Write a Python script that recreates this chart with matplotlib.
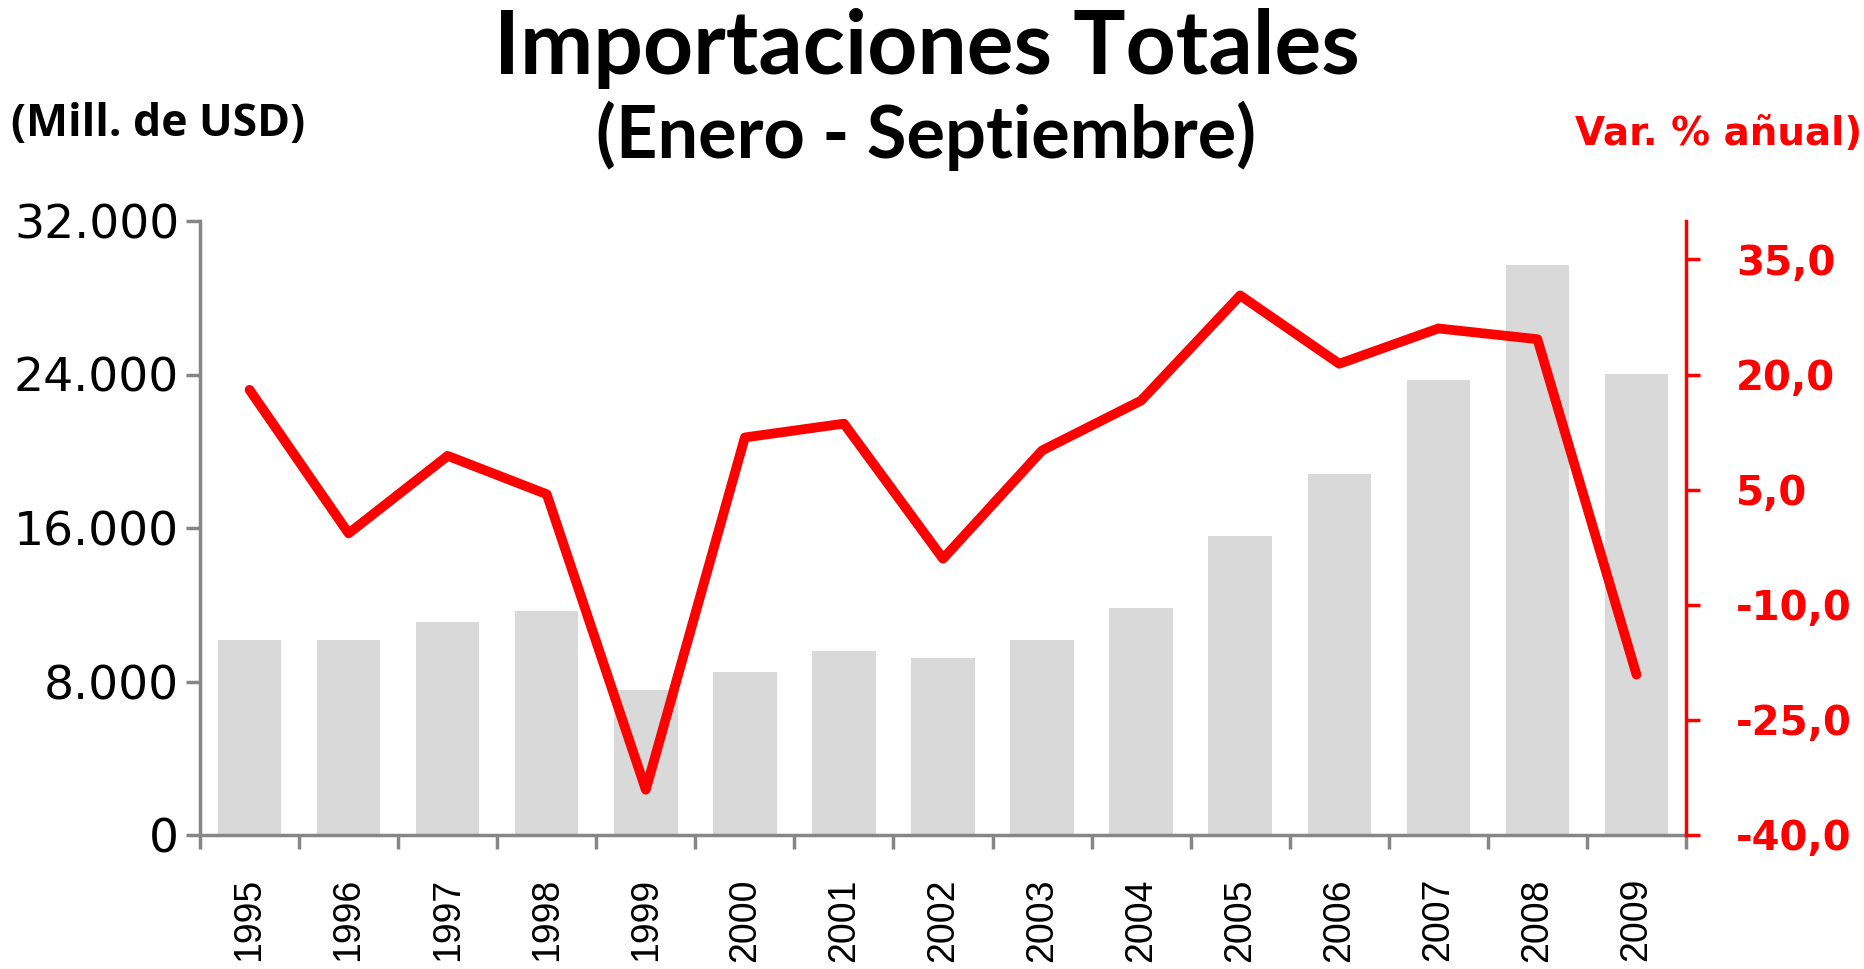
import numpy as np
import matplotlib
matplotlib.use('Agg')
import matplotlib.pyplot as plt
from matplotlib.ticker import FixedLocator, FuncFormatter

years = ['1995', '1996', '1997', '1998', '1999', '2000', '2001', '2002',
         '2003', '2004', '2005', '2006', '2007', '2008', '2009']
imports = [10150, 10150, 11100, 11650, 7550, 8500, 9600, 9250,
           10150, 11850, 15600, 18800, 23700, 29700, 24050]
var_pct = [18.0, -0.7, 9.4, 4.4, -34.1, 11.8, 13.6, -4.0,
           10.1, 16.6, 30.3, 21.4, 26.0, 24.6, -19.1]

left_ticks = [0, 8000, 16000, 24000, 32000]
right_ticks = [-40, -25, -10, 5, 20, 35]

GRAY = '#868686'
RED = '#ff0000'

fig = plt.figure(figsize=(18.64, 9.69), dpi=100)
ax = fig.add_axes([200 / 1864, 1 - 835 / 969, (1686 - 200) / 1864, (835 - 221) / 969])
x = np.arange(len(years))

ax.bar(x, imports, width=0.64, color='#d9d9d9', zorder=1)
ax.set_xlim(-0.5, len(years) - 0.5)
ax.set_ylim(0, 32000)

ax.yaxis.set_major_locator(FixedLocator(left_ticks))
ax.yaxis.set_major_formatter(FuncFormatter(lambda v, p: f'{int(v):,}'.replace(',', '.')))
ax.tick_params(axis='y', direction='out', length=10, width=2.5, color=GRAY,
               labelsize=34, pad=5)
for lab in ax.get_yticklabels():
    lab.set_family('DejaVu Sans')

ax.set_xticks(x)
ax.set_xticklabels(years, rotation=90, fontsize=27, family='Liberation Sans')
ax.tick_params(axis='x', length=0, pad=31)
ax.set_xticks(np.arange(-0.5, len(years)), minor=True)
ax.tick_params(axis='x', which='minor', direction='out', length=10, width=2.5, color=GRAY)

for side in ['top', 'right']:
    ax.spines[side].set_visible(False)
for side in ['left', 'bottom']:
    ax.spines[side].set_color(GRAY)
    ax.spines[side].set_linewidth(2.5)

ax2 = ax.twinx()
ax2.plot(x, var_pct, color=RED, linewidth=7, solid_joinstyle='round',
         solid_capstyle='round', zorder=3)
ax2.set_ylim(-40, 40)
ax2.yaxis.set_major_locator(FixedLocator(right_ticks))
ax2.yaxis.set_major_formatter(FuncFormatter(lambda v, p: f'{v:.1f}'.replace('.', ',')))
ax2.tick_params(axis='y', direction='out', length=10, width=2.5, color=RED,
                labelcolor=RED, labelsize=29, pad=26)
for lab in ax2.get_yticklabels():
    lab.set_fontweight('bold')
    lab.set_family('DejaVu Sans')
for side in ['top', 'left', 'bottom']:
    ax2.spines[side].set_visible(False)
ax2.spines['right'].set_color(RED)
ax2.spines['right'].set_linewidth(2.5)

fig.text(0.497, 0.950, 'Importaciones Totales', ha='center', va='center',
         fontsize=63, fontweight='bold', family='Lato')
fig.text(0.497, 0.860, '(Enero - Septiembre)', ha='center', va='center',
         fontsize=52, fontweight='bold', family='Lato')
fig.text(0.006, 0.872, '(Mill. de USD)', ha='left', va='center',
         fontsize=32, fontweight='bold', family='Open Sans')
fig.text(0.999, 0.862, 'Var. % añual)', ha='right', va='center',
         fontsize=28, fontweight='bold', color=RED, family='DejaVu Sans')

fig.savefig('out.png', dpi=100)
plt.close(fig)
